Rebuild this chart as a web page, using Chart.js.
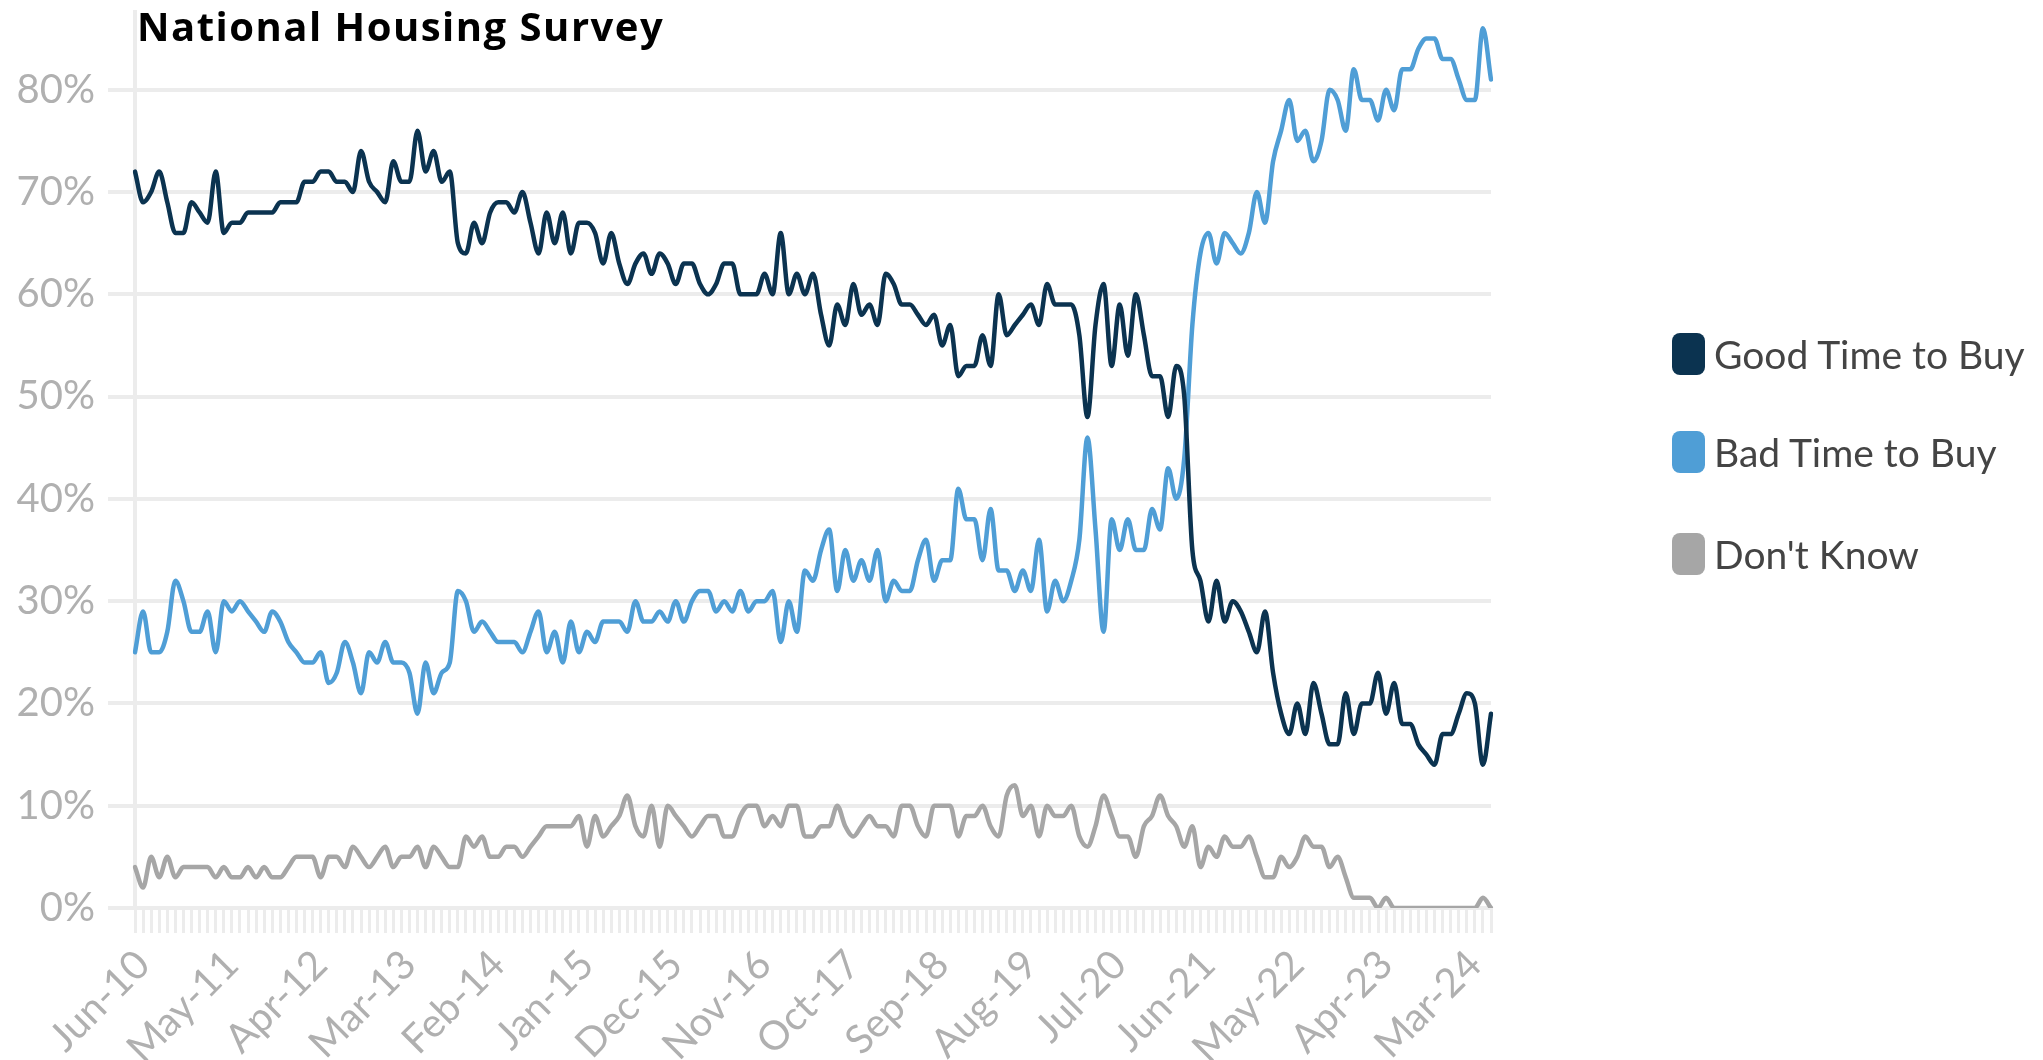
<!DOCTYPE html>
<html lang="en">
<head>
<meta charset="utf-8">
<title>National Housing Survey</title>
<script src="https://cdn.jsdelivr.net/npm/chart.js@4.4.1/dist/chart.umd.min.js"></script>
<style>
  html, body {
    margin: 0;
    padding: 0;
    background: #ffffff;
  }
  #wrap {
    position: relative;
    width: 2043px;
    height: 1060px;
  }
  #chart {
    position: absolute;
    left: 0;
    top: 0;
  }
  #title {
    position: absolute;
    left: 137px;
    top: 6px;
    font: 700 40px "Open Sans", "Noto Sans", sans-serif;
    line-height: 40px;
    letter-spacing: 1.5px;
    color: #000000;
    white-space: nowrap;
  }
  .legend-item {
    position: absolute;
    left: 1672px;
    height: 42px;
    display: flex;
    align-items: center;
    white-space: nowrap;
  }
  .legend-box {
    width: 33px;
    height: 42px;
    border-radius: 8px;
    margin-right: 9px;
  }
  .legend-text {
    font: 400 39px Lato, sans-serif;
    line-height: 42px;
    color: #444444;
  }
</style>
</head>
<body>
<div id="wrap">
  <canvas id="chart" width="2043" height="1060"></canvas>
  <div id="title">National Housing Survey</div>
  <div id="legend"></div>
</div>
<script>
// Monthly survey results, Jun 2010 to Jun 2024 (% of respondents)
const goodTime = [
  72, 69, 70, 72, 69, 66, 66, 69, 68, 67,
  72, 66, 67, 67, 68, 68, 68, 68, 69, 69,
  69, 71, 71, 72, 72, 71, 71, 70, 74, 71,
  70, 69, 73, 71, 71, 76, 72, 74, 71, 72,
  65, 64, 67, 65, 68, 69, 69, 68, 70, 67,
  64, 68, 65, 68, 64, 67, 67, 66, 63, 66,
  63, 61, 63, 64, 62, 64, 63, 61, 63, 63,
  61, 60, 61, 63, 63, 60, 60, 60, 62, 60,
  66, 60, 62, 60, 62, 58, 55, 59, 57, 61,
  58, 59, 57, 62, 61, 59, 59, 58, 57, 58,
  55, 57, 52, 53, 53, 56, 53, 60, 56, 57,
  58, 59, 57, 61, 59, 59, 59, 56, 48, 57,
  61, 53, 59, 54, 60, 56, 52, 52, 48, 53,
  50, 35, 32, 28, 32, 28, 30, 29, 27, 25,
  29, 23, 19, 17, 20, 17, 22, 19, 16, 16,
  21, 17, 20, 20, 23, 19, 22, 18, 18, 16,
  15, 14, 17, 17, 19, 21, 20, 14, 19,
]

const badTime = [
  25, 29, 25, 25, 27, 32, 30, 27, 27, 29,
  25, 30, 29, 30, 29, 28, 27, 29, 28, 26,
  25, 24, 24, 25, 22, 23, 26, 24, 21, 25,
  24, 26, 24, 24, 23, 19, 24, 21, 23, 24,
  31, 30, 27, 28, 27, 26, 26, 26, 25, 27,
  29, 25, 27, 24, 28, 25, 27, 26, 28, 28,
  28, 27, 30, 28, 28, 29, 28, 30, 28, 30,
  31, 31, 29, 30, 29, 31, 29, 30, 30, 31,
  26, 30, 27, 33, 32, 35, 37, 31, 35, 32,
  34, 32, 35, 30, 32, 31, 31, 34, 36, 32,
  34, 34, 41, 38, 38, 34, 39, 33, 33, 31,
  33, 31, 36, 29, 32, 30, 32, 36, 46, 37,
  27, 38, 35, 38, 35, 35, 39, 37, 43, 40,
  44, 57, 64, 66, 63, 66, 65, 64, 66, 70,
  67, 73, 76, 79, 75, 76, 73, 75, 80, 79,
  76, 82, 79, 79, 77, 80, 78, 82, 82, 84,
  85, 85, 83, 83, 81, 79, 79, 86, 81,
]

const dontKnow = [
  4, 2, 5, 3, 5, 3, 4, 4, 4, 4,
  3, 4, 3, 3, 4, 3, 4, 3, 3, 4,
  5, 5, 5, 3, 5, 5, 4, 6, 5, 4,
  5, 6, 4, 5, 5, 6, 4, 6, 5, 4,
  4, 7, 6, 7, 5, 5, 6, 6, 5, 6,
  7, 8, 8, 8, 8, 9, 6, 9, 7, 8,
  9, 11, 8, 7, 10, 6, 10, 9, 8, 7,
  8, 9, 9, 7, 7, 9, 10, 10, 8, 9,
  8, 10, 10, 7, 7, 8, 8, 10, 8, 7,
  8, 9, 8, 8, 7, 10, 10, 8, 7, 10,
  10, 10, 7, 9, 9, 10, 8, 7, 11, 12,
  9, 10, 7, 10, 9, 9, 10, 7, 6, 8,
  11, 9, 7, 7, 5, 8, 9, 11, 9, 8,
  6, 8, 4, 6, 5, 7, 6, 6, 7, 5,
  3, 3, 5, 4, 5, 7, 6, 6, 4, 5,
  3, 1, 1, 1, 0, 1, 0, 0, 0, 0,
  0, 0, 0, 0, 0, 0, 0, 1, 0,
]

// Month labels ("Jun-10" ... "Jun-24"), one per survey
const monthNames = ["Jan", "Feb", "Mar", "Apr", "May", "Jun", "Jul", "Aug", "Sep", "Oct", "Nov", "Dec"]
const firstMonth = 5 // June
const firstYear = 10 // 2010
const surveyMonths = []
for (let m = firstMonth; m < firstMonth + goodTime.length; m++) {
  const yy = String(firstYear + Math.floor(m / 12)).padStart(2, "0")
  surveyMonths.push(monthNames[m % 12] + "-" + yy)
}

// Only every 11th month gets a label on the x axis
const labelEvery = 11

const yTicks = [0, 10, 20, 30, 40, 50, 60, 70, 80]

const series = [
  { name: "Good Time to Buy", data: goodTime, color: "#0b3350" },
  { name: "Bad Time to Buy", data: badTime, color: "#4f9ed6" },
  { name: "Don't Know", data: dontKnow, color: "#a6a6a6" },
]

const gridColor = "#ececec"
const tickColor = "#b0b0b0"

// Legend on the right, built as plain HTML
function buildLegend() {
  const legend = document.getElementById("legend")
  const tops = [333, 431, 533]
  series.forEach((s, i) => {
    const item = document.createElement("div")
    item.className = "legend-item"
    item.style.top = tops[i] + "px"
    item.innerHTML = `<span class="legend-box" style="background:${s.color}"></span><span class="legend-text"></span>`
    item.querySelector(".legend-text").textContent = s.name
    legend.appendChild(item)
  })
}

function initChart() {
  const ctx = document.getElementById("chart")

  new Chart(ctx, {
    type: "line",
    data: {
      labels: surveyMonths,
      datasets: series.map((s) => ({
        label: s.name,
        data: s.data,
        borderColor: s.color,
        backgroundColor: s.color,
        borderWidth: 4.5,
        pointRadius: 0,
        fill: false,
        cubicInterpolationMode: "monotone",
        borderJoinStyle: "round",
        borderCapStyle: "round",
      })),
    },
    options: {
      responsive: false,
      animation: false,
      events: [],
      layout: {
        padding: { left: 0, top: 12, right: 552, bottom: 0 },
      },
      plugins: {
        legend: { display: false },
        tooltip: { enabled: false },
      },
      scales: {
        x: {
          grid: {
            drawOnChartArea: false,
            color: gridColor,
            lineWidth: 3,
            tickLength: 25,
          },
          border: { display: false },
          ticks: {
            autoSkip: false,
            minRotation: 45,
            maxRotation: 45,
            padding: 8,
            labelOffset: 8,
            color: tickColor,
            font: { family: "Lato", size: 40 },
            callback: function (value, index) {
              return index % labelEvery === 0 ? this.getLabelForValue(value) : ""
            },
          },
          afterFit: (scale) => {
            scale.height = 152
          },
        },
        y: {
          min: 0,
          max: 87.6,
          grid: {
            color: gridColor,
            lineWidth: 4,
            tickLength: 27,
          },
          border: { color: gridColor, width: 4 },
          ticks: {
            padding: 13,
            color: tickColor,
            font: { family: "Lato", size: 40 },
            callback: (value) => value + "%",
          },
          afterBuildTicks: (scale) => {
            scale.ticks = yTicks.map((v) => ({ value: v }))
          },
          afterFit: (scale) => {
            scale.width = 135
            scale.paddingTop = 0
            scale.paddingBottom = 0
          },
        },
      },
    },
  })
}

buildLegend()
initChart()
</script>
</body>
</html>
